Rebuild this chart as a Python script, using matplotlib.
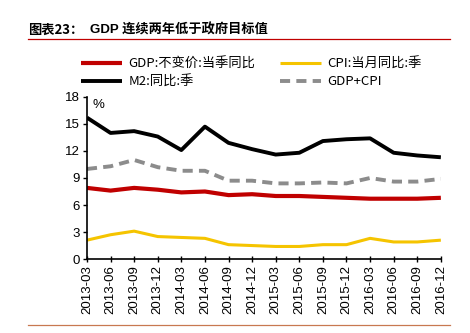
import matplotlib
matplotlib.use("Agg")
import matplotlib.pyplot as plt
from matplotlib.lines import Line2D

plt.rcParams['font.family'] = ['Liberation Sans', 'Noto Sans CJK SC', 'DejaVu Sans']

quarters = ["2013-03", "2013-06", "2013-09", "2013-12", "2014-03", "2014-06",
            "2014-09", "2014-12", "2015-03", "2015-06", "2015-09", "2015-12",
            "2016-03", "2016-06", "2016-09", "2016-12"]
gdp = [7.9, 7.6, 7.9, 7.7, 7.4, 7.5, 7.1, 7.2, 7.0, 7.0, 6.9, 6.8, 6.7, 6.7, 6.7, 6.8]
cpi = [2.1, 2.7, 3.1, 2.5, 2.4, 2.3, 1.6, 1.5, 1.4, 1.4, 1.6, 1.6, 2.3, 1.9, 1.9, 2.1]
m2 = [15.7, 14.0, 14.2, 13.6, 12.1, 14.7, 12.9, 12.2, 11.6, 11.8, 13.1, 13.3, 13.4, 11.8, 11.5, 11.3]
gdp_cpi = [g + c for g, c in zip(gdp, cpi)]
y_ticks = [0, 3, 6, 9, 12, 15, 18]

labels = {"gdp": "GDP:不变价:当季同比", "cpi": "CPI:当月同比:季",
          "m2": "M2:同比:季", "sum": "GDP+CPI"}
colors = {"gdp": "#C00000", "cpi": "#F5C400", "m2": "#000000", "sum": "#8C8C8C"}

fig = plt.figure(figsize=(4.70, 3.33), dpi=100)
ax = fig.add_axes([0.185, 0.222, 0.753, 0.487])

x = list(range(len(quarters)))
l_gdp, = ax.plot(x, gdp, color=colors["gdp"], lw=3.0, solid_capstyle='butt')
l_cpi, = ax.plot(x, cpi, color=colors["cpi"], lw=2.2, solid_capstyle='butt')
l_m2, = ax.plot(x, m2, color=colors["m2"], lw=2.8, solid_capstyle='butt')
l_sum, = ax.plot(x, gdp_cpi, color=colors["sum"], lw=2.8, dashes=(2.6, 1.6))

ax.set_xlim(0, len(quarters) - 1)
ax.set_ylim(0, 18)
ax.set_yticks(y_ticks)
ax.set_xticks(x)
ax.set_xticklabels(quarters, rotation=90, fontsize=9.5, family=['Liberation Sans'])
ax.tick_params(axis='y', labelsize=9.5, direction='out', length=3, width=1, pad=2)
ax.tick_params(axis='x', direction='inout', length=5, width=1, pad=2)
for s in ['top', 'right']:
    ax.spines[s].set_visible(False)
for s in ['left', 'bottom']:
    ax.spines[s].set_linewidth(1.2)
ax.text(0.015, 0.985, "%", transform=ax.transAxes, fontsize=9.5, va='top', ha='left')

# legend: two rows, filled column by column
handles = [l_gdp, l_m2, l_cpi, l_sum]
names = [labels["gdp"], labels["m2"], labels["cpi"], labels["sum"]]
leg = fig.legend(handles, names, loc='upper left', bbox_to_anchor=(0.173, 0.827),
                 ncol=2, frameon=False, handlelength=3.1,
                 columnspacing=1.9, handletextpad=0.45, labelspacing=0.36,
                 borderaxespad=0, borderpad=0,
                 prop={'family': ['Noto Sans CJK SC', 'DejaVu Sans'], 'size': 9.5})

# title and rules
fig.text(28 / 470, 1 - 30 / 333, "图表23：", fontsize=9.5, fontweight='bold',
         family=['Noto Sans CJK SC'], va='center', ha='left')
fig.text(90 / 470, 1 - 30 / 333, "GDP 连续两年低于政府目标值", fontsize=9.5,
         fontweight='bold', family=['Liberation Sans', 'Noto Sans CJK SC'],
         va='center', ha='left')
fig.add_artist(Line2D([28 / 470, 450 / 470], [1 - 38.5 / 333] * 2, color="#C00000",
                      lw=0.9, transform=fig.transFigure))
fig.add_artist(Line2D([28 / 470, 450 / 470], [1 - 325 / 333] * 2, color="#C87850",
                      lw=0.9, transform=fig.transFigure))

fig.savefig("out.png", dpi=100)
